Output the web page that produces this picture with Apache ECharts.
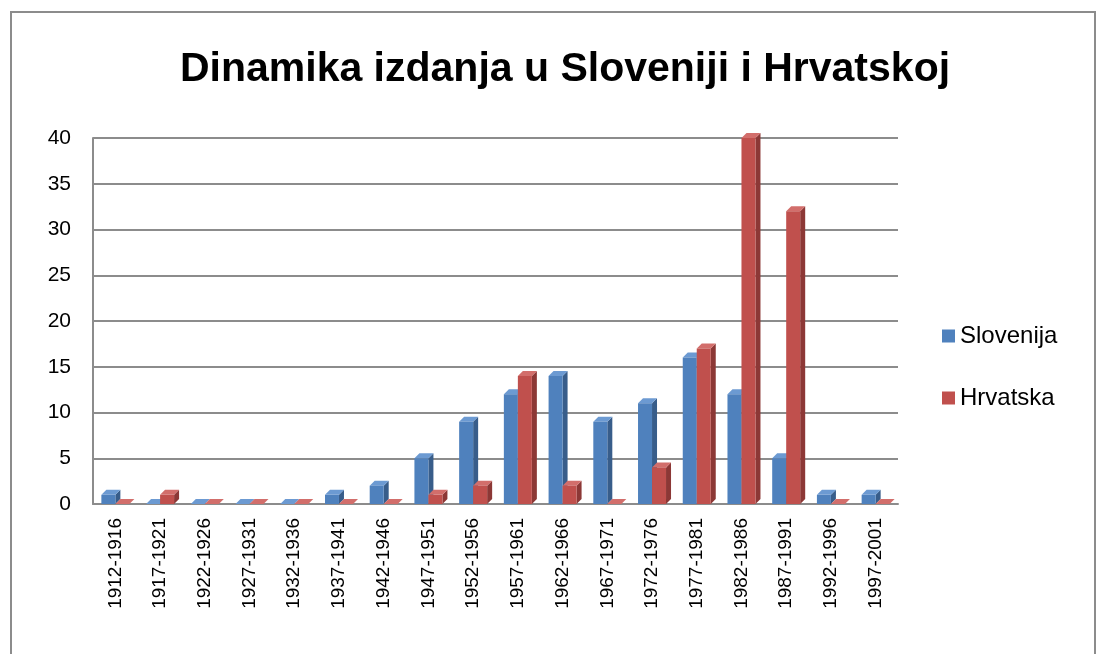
<!DOCTYPE html>
<html>
<head>
<meta charset="utf-8">
<script src="https://cdn.jsdelivr.net/npm/echarts@6/dist/echarts.min.js"></script>
<style>
  html, body { margin: 0; padding: 0; background: #fff; }
  #frame { position: absolute; left: 10px; top: 11px; width: 1082px; height: 700px; border: 2px solid #8c8c8c; }
  #chart { position: absolute; left: 0; top: 0; width: 1104px; height: 654px; }
</style>
</head>
<body>
<div id="frame"></div>
<div id="chart"></div>
<script>
var periods = ['1912-1916', '1917-1921', '1922-1926', '1927-1931', '1932-1936', '1937-1941',
  '1942-1946', '1947-1951', '1952-1956', '1957-1961', '1962-1966', '1967-1971',
  '1972-1976', '1977-1981', '1982-1986', '1987-1991', '1992-1996', '1997-2001'];
var slovenija = [1, 0, 0, 0, 0, 1, 2, 5, 9, 12, 14, 9, 11, 16, 12, 5, 1, 1];
var hrvatska = [0, 1, 0, 0, 0, 0, 0, 1, 2, 14, 2, 0, 4, 17, 40, 32, 0, 0];

var font = '"Liberation Sans", sans-serif';
var myChart = echarts.init(document.getElementById('chart'));

// 3d-ish bar: front, side and top faces
var makeRender = function (offset, front, side, top) {
  return function (params, api) {
    var idx = api.value(0);
    var p = api.coord([idx, api.value(1)]);
    var b = api.coord([idx, 0]);
    var w = 14, d = 5;
    var x0 = p[0] + offset - w / 2, x1 = x0 + w;
    var yt = p[1], yb = b[1];
    return {
      type: 'group',
      children: [
        { type: 'polygon', shape: { points: [[x1, yt], [x1 + d, yt - d], [x1 + d, yb - d], [x1, yb]] }, style: { fill: side } },
        { type: 'polygon', shape: { points: [[x0, yt], [x0 + d, yt - d], [x1 + d, yt - d], [x1, yt]] }, style: { fill: top } },
        { type: 'rect', shape: { x: x0, y: yt, width: w, height: yb - yt }, style: { fill: front } }
      ]
    };
  };
};

var option = {
  animation: false,
  title: {
    text: 'Dinamika izdanja u Sloveniji i Hrvatskoj',
    left: 560, top: 44, textAlign: 'center',
    textStyle: { fontFamily: font, fontWeight: 'bold', fontSize: 41, color: '#000' }
  },
  legend: {
    orient: 'vertical',
    left: 937, top: 319,
    itemWidth: 13, itemHeight: 13, itemGap: 38,
    icon: 'rect',
    textStyle: { fontFamily: font, fontSize: 24, color: '#000' },
    data: [
      { name: 'Slovenija', itemStyle: { color: '#4F81BD' } },
      { name: 'Hrvatska', itemStyle: { color: '#C0504D' } }
    ]
  },
  grid: { left: 93, top: 138, width: 805, height: 366 },
  xAxis: {
    type: 'category',
    data: periods,
    axisLine: { show: true, lineStyle: { color: '#8c8c8c', width: 2 } },
    axisTick: { show: false },
    axisLabel: { rotate: 90, fontFamily: font, fontSize: 19, color: '#000', margin: 14 }
  },
  yAxis: {
    type: 'value',
    min: 0, max: 40, interval: 5,
    axisLine: { show: true, lineStyle: { color: '#8c8c8c', width: 2 } },
    axisTick: { show: false },
    splitLine: { lineStyle: { color: '#8c8c8c', width: 2 } },
    axisLabel: { fontFamily: font, fontSize: 21, color: '#000', margin: 22 }
  },
  series: [
    {
      name: 'Slovenija', type: 'custom',
      itemStyle: { color: '#4F81BD' },
      encode: { x: 0, y: 1 },
      data: slovenija.map(function (v, i) { return [i, v]; }),
      renderItem: makeRender(-7, '#4F81BD', '#385D8A', '#6C9AD2')
    },
    {
      name: 'Hrvatska', type: 'custom',
      itemStyle: { color: '#C0504D' },
      encode: { x: 0, y: 1 },
      data: hrvatska.map(function (v, i) { return [i, v]; }),
      renderItem: makeRender(7, '#C0504D', '#8C3836', '#D26E6B')
    }
  ]
};
myChart.setOption(option);
</script>
</body>
</html>
